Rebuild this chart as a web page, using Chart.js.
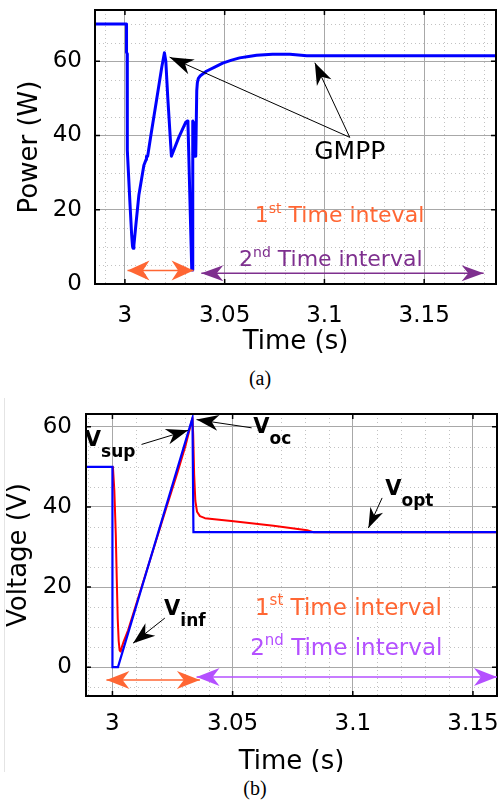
<!DOCTYPE html>
<html>
<head>
<meta charset="utf-8">
<script src="https://cdn.jsdelivr.net/npm/chart.js@4.4.0/dist/chart.umd.min.js"></script>
<style>
  body { margin: 0; background: #fff; width: 498px; height: 800px; position: relative; overflow: hidden; }
  #panelA { position: absolute; left: 0; top: 0; width: 498px; height: 362px; }
  #panelB { position: absolute; left: 0; top: 398px; width: 498px; height: 374px; overflow: hidden; }
  #edgeB { position: absolute; left: 4px; top: 398px; width: 0; height: 374px; border-left: 1px solid #e4e4e4; }
  .cap { position: absolute; font: 20px 'Liberation Serif', 'DejaVu Serif', serif; color: #000; transform: translate(-50%, -50%); }
</style>
</head>
<body>
<div id="panelA"><canvas id="powerChart" width="498" height="362"></canvas></div>
<div id="edgeB"></div>
<div id="panelB"><canvas id="voltChart" width="498" height="390"></canvas></div>
<div class="cap" style="left:260px; top:378px;">(a)</div>
<div class="cap" style="left:255px; top:788px;">(b)</div>

<script>
// PV power during the GMPP search (W)
const powerTime = [2.985, 3.0008, 3.0008, 3.0011, 3.0011, 3.0013, 3.0025, 3.0034, 3.0038, 3.0041,
  3.0045, 3.0055, 3.007, 3.0095, 3.0106, 3.0108, 3.0114, 3.013, 3.016, 3.0185, 3.0198,
  3.0205, 3.0215, 3.0233, 3.027, 3.0305, 3.0313, 3.0316, 3.0335, 3.0338, 3.034, 3.0343,
  3.0346, 3.035, 3.0355, 3.036, 3.0363, 3.0368, 3.0378, 3.0408, 3.045, 3.049, 3.0535,
  3.0575, 3.062, 3.066, 3.074, 3.0827, 3.0912, 3.186];
const powerValue = [70, 70, 62.4, 62, 36.7, 36, 22, 13, 10.2, 9.6,
  10.5, 16, 24, 32, 33.5, 34.4, 34.4, 40, 50, 58.5, 62.3,
  60, 50, 34.4, 39.5, 43.6, 43.9, 43.2, 3.8, 3.8, 43.9, 34.4,
  43.5, 34.4, 34.4, 52, 54.2, 55.4, 56.1, 57.3, 58.4, 59.5, 60.3,
  60.9, 61.3, 61.6, 61.9, 61.9, 61.5, 61.5];

// reference voltage from the controller (V)
const voltRefTime = [2.989, 3.0, 3.0, 3.0023, 3.0333, 3.0337, 3.16];
const voltRef = [50, 50, 0, 0, 62.2, 33.7, 33.7];

// measured PV voltage (V)
const voltPvTime = [2.989, 3.0002, 3.0008, 3.0014, 3.0018, 3.0022, 3.0026, 3.003, 3.0034, 3.004,
  3.0045, 3.0065, 3.015, 3.022, 3.027, 3.0305, 3.0333, 3.0336, 3.034, 3.0345, 3.0352,
  3.0364, 3.0385, 3.0504, 3.067, 3.081, 3.0836, 3.16];
const voltPv = [50, 50, 44, 33, 22, 12, 6.5, 4.2, 3.9, 5.2,
  6.1, 9.2, 25.5, 39, 48.5, 55.5, 62.2, 58, 48, 41.5, 38.8,
  37.7, 37.2, 36.4, 35.3, 34.2, 33.7, 33.7];

const timeTicks = [3, 3.05, 3.1, 3.15];
const timeTickLabels = ['3', '3.05', '3.1', '3.15'];
const powerTicks = [0, 20, 40, 60];
const voltTicks = [0, 20, 40, 60];

const FONT = "'DejaVu Sans', sans-serif";
const ORANGE = '#ff6633';
const PURPLE = '#7e2f8e';
const VIOLET = '#b450ff';

function pts(xs, ys) {
  return xs.map((x, i) => ({ x: x, y: ys[i] }));
}

// dotted minor grid under the major grid lines
const minorGrid = {
  id: 'minorGrid',
  beforeDraw(chart, args, opts) {
    const { ctx, chartArea: a, scales: { x, y } } = chart;
    ctx.save();
    ctx.strokeStyle = '#c2c2c2';
    ctx.lineWidth = 1;
    ctx.setLineDash([1, 3]);
    for (let k = Math.ceil(x.min / opts.xStep); k * opts.xStep <= x.max; k++) {
      if (k % 5 === 0) continue;
      const px = Math.round(x.getPixelForValue(k * opts.xStep)) + 0.5;
      ctx.beginPath(); ctx.moveTo(px, a.top); ctx.lineTo(px, a.bottom); ctx.stroke();
    }
    for (let k = Math.ceil(y.min / opts.yStep); k * opts.yStep <= y.max; k++) {
      if (k % 4 === 0) continue;
      const py = Math.round(y.getPixelForValue(k * opts.yStep)) + 0.5;
      ctx.beginPath(); ctx.moveTo(a.left, py); ctx.lineTo(a.right, py); ctx.stroke();
    }
    ctx.restore();
  }
};

// black box around the plot with inward tick marks on all four sides
const frame = {
  id: 'frame',
  afterDatasetsDraw(chart) {
    const { ctx, chartArea: a, scales: { x, y } } = chart;
    ctx.save();
    ctx.strokeStyle = '#000';
    ctx.lineWidth = 1.5;
    x.ticks.forEach(t => {
      const px = x.getPixelForValue(t.value);
      ctx.beginPath();
      ctx.moveTo(px, a.bottom); ctx.lineTo(px, a.bottom - 5);
      ctx.moveTo(px, a.top); ctx.lineTo(px, a.top + 5);
      ctx.stroke();
    });
    y.ticks.forEach(t => {
      const py = y.getPixelForValue(t.value);
      ctx.beginPath();
      ctx.moveTo(a.left, py); ctx.lineTo(a.left + 5, py);
      ctx.moveTo(a.right, py); ctx.lineTo(a.right - 5, py);
      ctx.stroke();
    });
    ctx.lineWidth = 2;
    ctx.strokeRect(a.left, a.top, a.right - a.left, a.bottom - a.top);
    ctx.restore();
  }
};

function arrowHead(ctx, tx, ty, ang, len, half) {
  const c = Math.cos(ang), s = Math.sin(ang);
  ctx.beginPath();
  ctx.moveTo(tx, ty);
  ctx.lineTo(tx - len * c + half * s, ty - len * s - half * c);
  ctx.lineTo(tx - len * 0.7 * c, ty - len * 0.7 * s);
  ctx.lineTo(tx - len * c - half * s, ty - len * s + half * c);
  ctx.closePath();
  ctx.fill();
}

function drawRich(ctx, x, y, parts, color, align) {
  ctx.fillStyle = color;
  ctx.textBaseline = 'alphabetic';
  ctx.textAlign = 'left';
  let w = 0;
  parts.forEach(p => { ctx.font = p.font; w += ctx.measureText(p.t).width; });
  let cx = align === 'center' ? x - w / 2 : x;
  parts.forEach(p => {
    ctx.font = p.font;
    ctx.fillText(p.t, cx, y + (p.dy || 0));
    cx += ctx.measureText(p.t).width;
  });
}

// arrows and labels placed in data coordinates
const notes = {
  id: 'notes',
  afterDraw(chart, args, opts) {
    const { ctx, scales: { x, y } } = chart;
    const X = v => x.getPixelForValue(v);
    const Y = v => y.getPixelForValue(v);
    ctx.save();
    (opts.arrows || []).forEach(ar => {
      const x1 = X(ar.from[0]), y1 = Y(ar.from[1]);
      const x2 = X(ar.to[0]), y2 = Y(ar.to[1]);
      const ang = Math.atan2(y2 - y1, x2 - x1);
      ctx.strokeStyle = ar.color;
      ctx.fillStyle = ar.color;
      ctx.lineWidth = ar.width;
      ctx.beginPath(); ctx.moveTo(x1, y1); ctx.lineTo(x2, y2); ctx.stroke();
      arrowHead(ctx, x2, y2, ang, ar.head[0], ar.head[1]);
      if (ar.both) arrowHead(ctx, x1, y1, ang + Math.PI, ar.head[0], ar.head[1]);
    });
    (opts.texts || []).forEach(tx => {
      drawRich(ctx, X(tx.at[0]), Y(tx.at[1]), tx.parts, tx.color, tx.align);
    });
    ctx.restore();
  }
};

function ordinal(num, suf, rest, size) {
  return [
    { t: num, font: size + 'px ' + FONT },
    { t: suf, font: Math.round(size * 0.64) + 'px ' + FONT, dy: -Math.round(size * 0.42) },
    { t: rest, font: size + 'px ' + FONT }
  ];
}

function subLabel(main, sub) {
  return [
    { t: main, font: 'bold 21px ' + FONT },
    { t: sub, font: 'bold 17px ' + FONT, dy: 11 }
  ];
}

function axes(c) {
  return {
    x: {
      type: 'linear', min: c.xMin, max: c.xMax,
      afterBuildTicks: s => { s.ticks = timeTicks.map(v => ({ value: v })); },
      afterFit: s => { s.height = c.xAxisH; s.paddingLeft = 0; s.paddingRight = 0; },
      ticks: {
        callback: (v, i) => timeTickLabels[i],
        color: '#000', font: { family: FONT, size: 23 }, padding: c.xTickPad,
        maxRotation: 0, autoSkip: false
      },
      grid: { color: '#a8a8a8', lineWidth: 1, drawTicks: false },
      border: { display: false },
      title: {
        display: true, text: 'Time (s)', color: '#000',
        font: { family: FONT, size: 26, lineHeight: 1 }, padding: { top: 0, bottom: c.xTitlePad }
      }
    },
    y: {
      type: 'linear', min: c.yMin, max: c.yMax,
      afterBuildTicks: s => { s.ticks = c.yTicks.map(v => ({ value: v })); },
      afterFit: s => { s.width = c.yAxisW; s.paddingTop = 0; s.paddingBottom = 0; },
      ticks: { callback: v => String(v), color: '#000', font: { family: FONT, size: 23 }, padding: c.yTickPad },
      grid: { color: '#a8a8a8', lineWidth: 1, drawTicks: false },
      border: { display: false },
      title: {
        display: true, text: c.yTitle, color: '#000',
        font: { family: FONT, size: 26, lineHeight: 1 }, padding: { top: c.yTitlePad, bottom: 0 }
      }
    }
  };
}

// (a) power
new Chart(document.getElementById('powerChart').getContext('2d'), {
  type: 'line',
  data: {
    datasets: [{
      data: pts(powerTime, powerValue),
      borderColor: '#0000ff', borderWidth: 3,
      borderJoinStyle: 'round', borderCapStyle: 'round',
      pointRadius: 0, tension: 0, fill: false
    }]
  },
  options: {
    responsive: false, animation: false, devicePixelRatio: 1,
    layout: { padding: { top: 10, right: 2, left: 0, bottom: 0 } },
    scales: axes({
      xMin: 2.985, xMax: 3.186, yMin: 0, yMax: 73.8, yTicks: powerTicks,
      xAxisH: 78, yAxisW: 95, xTickPad: 18, yTickPad: 13, xTitlePad: 7, yTitlePad: 17,
      yTitle: 'Power (W)'
    }),
    plugins: {
      legend: { display: false },
      tooltip: { enabled: false },
      minorGrid: { xStep: 0.01, yStep: 5 },
      notes: {
        arrows: [
          { from: [3.1127, 39.5], to: [3.0224, 61.1], color: '#000', width: 1, head: [24, 8] },
          { from: [3.1127, 39.5], to: [3.0952, 59.6], color: '#000', width: 1, head: [22, 8] },
          { from: [3.0013, 3.65], to: [3.0344, 3.65], color: ORANGE, width: 1.5, head: [22, 10], both: true },
          { from: [3.0383, 2.9], to: [3.1798, 2.9], color: PURPLE, width: 1.5, head: [22, 8], both: true }
        ],
        texts: [
          { at: [3.1127, 33.8], parts: [{ t: 'GMPP', font: '25px ' + FONT }], color: '#000', align: 'center' },
          { at: [3.0651, 16.7], parts: ordinal('1', 'st', ' Time inteval', 22), color: ORANGE },
          { at: [3.0572, 4.9], parts: ordinal('2', 'nd', ' Time interval', 22), color: PURPLE }
        ]
      }
    }
  },
  plugins: [minorGrid, frame, notes]
});

// (b) voltage
new Chart(document.getElementById('voltChart').getContext('2d'), {
  type: 'line',
  data: {
    datasets: [{
      data: pts(voltRefTime, voltRef),
      borderColor: '#0000ff', borderWidth: 2.2,
      pointRadius: 0, tension: 0, fill: false, order: 0
    }, {
      data: pts(voltPvTime, voltPv),
      borderColor: '#ff0000', borderWidth: 2,
      borderJoinStyle: 'round',
      pointRadius: 0, tension: 0, fill: false, order: 1
    }]
  },
  options: {
    responsive: false, animation: false, devicePixelRatio: 1,
    layout: { padding: { top: 16, right: 1, left: 0, bottom: 0 } },
    scales: axes({
      xMin: 2.989, xMax: 3.160, yMin: -7.2, yMax: 63.2, yTicks: voltTicks,
      xAxisH: 92, yAxisW: 86, xTickPad: 14, yTickPad: 14, xTitlePad: 13, yTitlePad: 6,
      yTitle: 'Voltage (V)'
    }),
    plugins: {
      legend: { display: false },
      tooltip: { enabled: false },
      minorGrid: { xStep: 0.01, yStep: 5 },
      notes: {
        arrows: [
          { from: [3.0121, 55.6], to: [3.0315, 59.15], color: '#000', width: 1, head: [22, 8] },
          { from: [3.0579, 59.75], to: [3.035, 61.8], color: '#000', width: 1, head: [22, 8] },
          { from: [3.1122, 42.25], to: [3.1065, 34.75], color: '#000', width: 1, head: [20, 7] },
          { from: [3.0218, 12.25], to: [3.0086, 6.0], color: '#000', width: 1, head: [22, 8] },
          { from: [2.9975, -3.2], to: [3.0364, -3.2], color: ORANGE, width: 1.5, head: [23, 9], both: true },
          { from: [3.035, -2.45], to: [3.16, -2.45], color: VIOLET, width: 1.5, head: [23, 9], both: true }
        ],
        texts: [
          { at: [2.9885, 55.15], parts: subLabel('V', 'sup'), color: '#000' },
          { at: [3.0586, 58.5], parts: subLabel('V', 'oc'), color: '#000' },
          { at: [3.1135, 43.1], parts: subLabel('V', 'opt'), color: '#000' },
          { at: [3.0215, 13.1], parts: subLabel('V', 'inf'), color: '#000' },
          { at: [3.0593, 13.1], parts: ordinal('1', 'st', ' Time interval', 23), color: ORANGE },
          { at: [3.0573, 3.1], parts: ordinal('2', 'nd', ' Time interval', 23), color: VIOLET }
        ]
      }
    }
  },
  plugins: [minorGrid, frame, notes]
});
</script>
</body>
</html>
